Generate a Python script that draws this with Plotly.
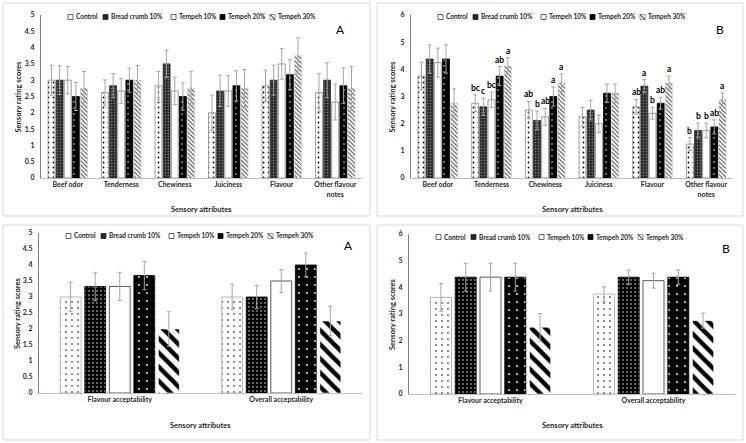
import plotly.graph_objects as go

W, H = 746, 443

series = ["Control", "Bread crumb 10%", "Tempeh 10%", "Tempeh 20%", "Tempeh 30%"]
attributes = ["Beef odor", "Tenderness", "Chewiness", "Juiciness", "Flavour", "Other flavour notes"]
attribute_ticks = ["Beef odor", "Tenderness", "Chewiness", "Juiciness", "Flavour", "Other flavour<br>notes"]
acceptability = ["Flavour acceptability", "Overall acceptability"]

# Panel A (top-left): rows = series, columns = attributes
sens_a_vals = [
    [3.0, 2.62, 2.83, 2.0, 2.83, 2.62],
    [3.0, 2.83, 3.5, 2.67, 3.0, 3.0],
    [3.0, 2.67, 2.67, 2.67, 3.5, 2.33],
    [2.5, 3.0, 2.5, 2.83, 3.17, 2.83],
    [2.75, 3.0, 2.75, 2.75, 3.75, 2.75],
]
sens_a_err = [
    [0.46, 0.39, 0.44, 0.54, 0.48, 0.59],
    [0.44, 0.37, 0.42, 0.48, 0.46, 0.54],
    [0.42, 0.38, 0.42, 0.47, 0.47, 0.55],
    [0.43, 0.37, 0.42, 0.46, 0.46, 0.55],
    [0.52, 0.45, 0.52, 0.58, 0.55, 0.67],
]

# Panel B (top-right)
sens_b_vals = [
    [3.75, 2.75, 2.5, 2.25, 2.62, 1.25],
    [4.38, 2.62, 2.12, 2.5, 3.38, 1.75],
    [4.25, 2.88, 2.25, 2.0, 2.38, 1.75],
    [4.38, 3.75, 3.0, 3.12, 2.75, 1.88],
    [2.75, 4.12, 3.5, 3.12, 3.5, 2.88],
]
sens_b_err = [
    [0.51, 0.31, 0.32, 0.34, 0.27, 0.24],
    [0.52, 0.32, 0.35, 0.36, 0.24, 0.27],
    [0.53, 0.28, 0.31, 0.32, 0.22, 0.27],
    [0.52, 0.35, 0.35, 0.34, 0.22, 0.26],
    [0.53, 0.31, 0.33, 0.34, 0.25, 0.25],
]
sens_b_letters = [
    ["", "bc", "ab", "", "ab", "b"],
    ["", "c", "b", "", "a", "b"],
    ["", "bc", "ab", "", "b", "b"],
    ["", "ab", "a", "", "ab", "ab"],
    ["", "a", "a", "", "a", "a"],
]

# Acceptability A (bottom-left)
acc_a_vals = [[3.0, 3.0], [3.33, 3.0], [3.33, 3.5], [3.67, 4.0], [2.0, 2.25]]
acc_a_err = [[0.46, 0.4], [0.44, 0.36], [0.44, 0.36], [0.44, 0.37], [0.54, 0.46]]

# Acceptability B (bottom-right)
acc_b_vals = [[3.62, 3.75], [4.38, 4.38], [4.38, 4.25], [4.38, 4.38], [2.5, 2.75]]
acc_b_err = [[0.52, 0.27], [0.52, 0.27], [0.52, 0.28], [0.52, 0.27], [0.52, 0.28]]

FONT = "Lato"
BARGAP = 0.24
ERR_COLOR = "#a6a6a6"
TXT = "#262626"


def pat(shape, fg, bg, size, solidity):
    return dict(shape=shape, fgcolor=fg, bgcolor=bg, size=size, solidity=solidity,
                fillmode="overlay", fgopacity=1)


top_styles = [
    dict(color="white", line=dict(color="#8c8c8c", width=0.8), pattern=pat(".", "black", "white", 5, 0.1)),
    dict(color="#2a2a2a", line=dict(color="#2a2a2a", width=0.8), pattern=pat(".", "#7a7a7a", "#2a2a2a", 3, 0.25)),
    dict(color="white", line=dict(color="#7f7f7f", width=0.8)),
    dict(color="black", line=dict(color="black", width=0.8), pattern=pat(".", "white", "black", 6, 0.05)),
    dict(color="white", line=dict(color="#bfbfbf", width=0.5), pattern=pat("\\", "#333333", "white", 3, 0.3)),
]
bottom_styles = [
    dict(color="white", line=dict(color="#a6a6a6", width=0.8), pattern=pat(".", "black", "white", 6, 0.06)),
    dict(color="black", line=dict(color="black", width=0.8), pattern=pat(".", "white", "black", 4, 0.1)),
    dict(color="white", line=dict(color="#595959", width=1)),
    dict(color="black", line=dict(color="black", width=0.8), pattern=pat(".", "white", "black", 8, 0.04)),
    dict(color="white", line=dict(color="white", width=0.5), pattern=pat("\\", "black", "white", 10, 0.45)),
]

# symbol styles for the hand-built legends (fill, outline, has diagonal)
legend_syms = [("white", "#404040", False), ("#262626", "#262626", False), ("white", "#404040", False),
               ("black", "black", False), ("white", "#808080", True)]


def pxx(x):
    return x / W


def pxy(y):
    return 1 - y / H


# panels: (left, right, top, bottom) in px
panels = [
    dict(box=(41, 362, 15, 178), cats=attributes, ticks=attribute_ticks, vals=sens_a_vals, errs=sens_a_err,
         styles=top_styles, ymax=5, dtick=0.5, letter="A", letter_pos=(340, 29), leg_y=17,
         frame=(3, 3, 370, 216), xtitle_y=209, ytitle_x=18),
    dict(box=(411, 733, 15, 178), cats=attributes, ticks=attribute_ticks, vals=sens_b_vals, errs=sens_b_err,
         styles=top_styles, ymax=6, dtick=1, letter="B", letter_pos=(720, 29), leg_y=17,
         frame=(377, 3, 743, 216), xtitle_y=209, ytitle_x=392, sig=sens_b_letters),
    dict(box=(39, 362, 233, 393), cats=acceptability, ticks=acceptability, vals=acc_a_vals, errs=acc_a_err,
         styles=bottom_styles, ymax=5, dtick=0.5, letter="A", letter_pos=(348, 246), leg_y=236,
         frame=(3, 225, 370, 440), xtitle_y=425, ytitle_x=17),
    dict(box=(409, 735, 234, 394), cats=acceptability, ticks=acceptability, vals=acc_b_vals, errs=acc_b_err,
         styles=bottom_styles, ymax=6, dtick=1, letter="B", letter_pos=(726, 248), leg_y=237,
         frame=(377, 225, 743, 440), xtitle_y=425, ytitle_x=392),
]
legend_offsets = [27, 62, 130, 179, 229]

fig = go.Figure()
annotations = []
shapes = []
layout = {}

for k, p in enumerate(panels):
    n = k + 1
    xa = "x" if n == 1 else f"x{n}"
    ya = "y" if n == 1 else f"y{n}"
    for j, name in enumerate(series):
        fig.add_trace(go.Bar(
            x=p["cats"], y=p["vals"][j], name=name, xaxis=xa, yaxis=ya,
            marker=p["styles"][j], showlegend=False,
            error_y=dict(type="data", array=p["errs"][j], color=ERR_COLOR, thickness=1, width=2),
        ))
    l, r, t, b = p["box"]
    layout["xaxis" if n == 1 else f"xaxis{n}"] = dict(
        domain=[pxx(l), pxx(r)], anchor=ya, type="category",
        tickmode="array", tickvals=p["cats"], ticktext=p["ticks"],
        showline=True, linecolor="#bfbfbf", linewidth=1, ticks="", showgrid=False, zeroline=False,
        tickfont=dict(family=FONT, size=7, color=TXT, weight="bold"),
        automargin=False, fixedrange=True,
    )
    layout["yaxis" if n == 1 else f"yaxis{n}"] = dict(
        domain=[pxy(b), pxy(t)], anchor=xa, range=[0, p["ymax"]], dtick=p["dtick"],
        showline=True, linecolor="#808080", linewidth=1, ticks="", showgrid=False, zeroline=False,
        tickfont=dict(family=FONT, size=7, color=TXT, weight="bold"), ticklabelstandoff=4,
        automargin=False, fixedrange=True,
    )
    # axis titles
    annotations.append(dict(text="Sensory attributes", xref="paper", yref="paper",
                            x=pxx((l + r) / 2), y=pxy(p["xtitle_y"]), xanchor="center", yanchor="middle",
                            showarrow=False, font=dict(family=FONT, size=7.5, color=TXT, weight="bold")))
    annotations.append(dict(text="Sensory rating scores", xref="paper", yref="paper", textangle=-90,
                            x=pxx(p["ytitle_x"]), y=pxy((t + b) / 2), xanchor="center", yanchor="middle",
                            showarrow=False, font=dict(family=FONT, size=7.5, color=TXT, weight="bold")))
    # panel frame
    fx0, fy0, fx1, fy1 = p["frame"]
    shapes.append(dict(type="rect", xref="paper", yref="paper", x0=pxx(fx0), x1=pxx(fx1),
                       y0=pxy(fy1), y1=pxy(fy0), line=dict(color="#d9d9d9", width=1), layer="below"))
    # panel letter
    annotations.append(dict(text=p["letter"], xref="paper", yref="paper", x=pxx(p["letter_pos"][0]),
                            y=pxy(p["letter_pos"][1]), xanchor="center", yanchor="middle", showarrow=False,
                            font=dict(family=FONT, size=12, color="black")))
    # legend
    for j, name in enumerate(series):
        sx = l + legend_offsets[j]
        sy = p["leg_y"]
        fill, outline, diag = legend_syms[j]
        shapes.append(dict(type="rect", xref="paper", yref="paper", x0=pxx(sx), x1=pxx(sx + 5),
                           y0=pxy(sy + 2.5), y1=pxy(sy - 2.5), fillcolor=fill,
                           line=dict(color=outline, width=0.8)))
        if diag:
            shapes.append(dict(type="line", xref="paper", yref="paper", x0=pxx(sx), x1=pxx(sx + 5),
                               y0=pxy(sy - 2.5), y1=pxy(sy + 2.5), line=dict(color="black", width=1)))
        annotations.append(dict(text=name, xref="paper", yref="paper", x=pxx(sx + 6), y=pxy(sy),
                                xanchor="left", yanchor="middle", showarrow=False,
                                font=dict(family=FONT, size=6.5, color=TXT, weight="bold")))
    # significance letters
    if "sig" in p:
        slot = (1 - BARGAP) / len(series)
        for j in range(len(series)):
            for i in range(len(p["cats"])):
                txt = p["sig"][j][i]
                if not txt:
                    continue
                annotations.append(dict(text=txt, xref=xa, yref=ya,
                                        x=i + (j - (len(series) - 1) / 2) * slot,
                                        y=p["vals"][j][i] + p["errs"][j][i],
                                        xanchor="center", yanchor="bottom", yshift=0, showarrow=False,
                                        font=dict(family=FONT, size=8.5, color="#000000", weight="bold")))

fig.update_layout(
    width=W, height=H, margin=dict(l=0, r=0, t=0, b=0),
    paper_bgcolor="white", plot_bgcolor="white",
    barmode="group", bargap=BARGAP, bargroupgap=0.15,
    annotations=annotations, shapes=shapes, showlegend=False,
    font=dict(family=FONT),
    **layout,
)

fig.write_html("out.html", config={"displayModeBar": False},
               post_script="document.body.style.margin='0';document.body.style.padding='0';")
